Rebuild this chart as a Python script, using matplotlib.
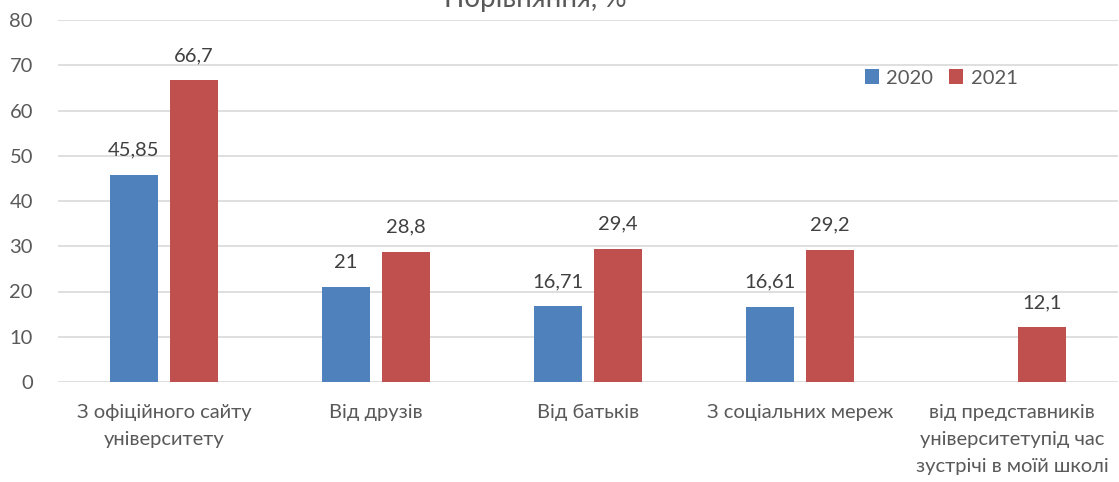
import numpy as np
import matplotlib
matplotlib.use('Agg')
from matplotlib import pyplot as plt

categories = ['З офіційного сайту\nуніверситету', 'Від друзів', 'Від батьків',
              'З соціальних мереж', 'від представників\nуніверситетупід час\nзустрічі в моїй школі']
values_2020 = [45.85, 21, 16.71, 16.61, None]
values_2021 = [66.7, 28.8, 29.4, 29.2, 12.1]
series_names = ['2020', '2021']

plt.rcParams['font.family'] = ['Lato', 'DejaVu Sans']
grey = '#595959'
colors = ['#4F81BD', '#C0504D']
fs = 14.5

fig = plt.figure(figsize=(11.19, 4.82), dpi=100)
ax = fig.add_axes([58/1119, 1-382/482, 1060/1119, 362/482])

x = np.arange(len(categories))
w = 0.226
off = 0.1415

def fmt(v):
    s = ('%g' % v).replace('.', ',')
    return s

for vals, dx, c, name in [(values_2020, -off, colors[0], series_names[0]),
                          (values_2021, off, colors[1], series_names[1])]:
    xs = [xi + dx for xi, v in zip(x, vals) if v is not None]
    vs = [v for v in vals if v is not None]
    ax.bar(xs, vs, width=w, color=c, label=name, zorder=3)
    for xi, v in zip(xs, vs):
        ax.text(xi, v + 3.6, fmt(v), ha='center', va='bottom', fontsize=fs, color='#404040')

ax.set_xlim(-0.5, len(categories) - 0.5)
ax.set_ylim(0, 80)
ax.set_yticks(range(0, 81, 10))
ax.yaxis.grid(True, color='#D9D9D9', linewidth=1.2, zorder=0)
for s in ax.spines.values():
    s.set_visible(False)
ax.tick_params(axis='both', length=0, colors=grey, labelsize=fs)
ax.tick_params(axis='y', pad=18)
ax.set_xticks(x)
ax.set_xticklabels(categories, linespacing=1.7)
ax.tick_params(axis='x', pad=16)

ax.legend(loc='center left', bbox_to_anchor=(789/1060, 1 - 58/362), frameon=False,
          ncol=2, fontsize=fs, handlelength=0.7, handleheight=0.7, handletextpad=0.35,
          columnspacing=0.8, labelcolor=grey)

fig.text(535/1119, 1 - 7/482, 'Порівняння, %', ha='center', va='baseline', fontsize=20, color=grey)

fig.savefig('out.png', dpi=100)
